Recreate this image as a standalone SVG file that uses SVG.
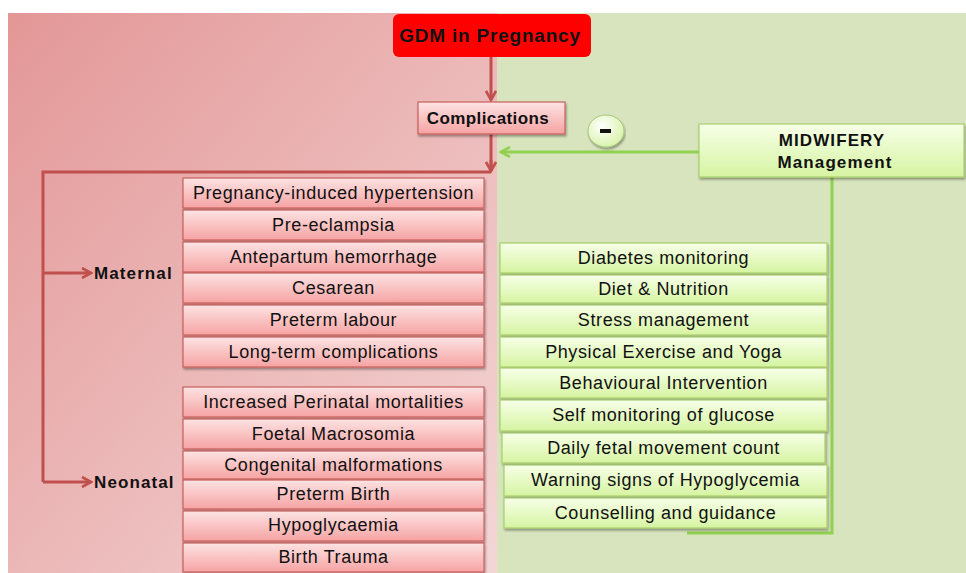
<svg xmlns="http://www.w3.org/2000/svg" width="966" height="573" viewBox="0 0 966 573">
<defs>
<linearGradient id="bgRed" x1="0" y1="0" x2="1" y2="1">
<stop offset="0" stop-color="#e39797"/>
<stop offset="1" stop-color="#f4d6d6"/>
</linearGradient>
<linearGradient id="redBox" x1="0" y1="0" x2="0" y2="1">
<stop offset="0" stop-color="#fde3e3"/>
<stop offset="1" stop-color="#f6a3a3"/>
</linearGradient>
<linearGradient id="greenBox" x1="0" y1="0" x2="0" y2="1">
<stop offset="0" stop-color="#f7ffe8"/>
<stop offset="1" stop-color="#d6f4a2"/>
</linearGradient>
<radialGradient id="minusG" cx="0.4" cy="0.35" r="0.7">
<stop offset="0" stop-color="#ffffff"/>
<stop offset="1" stop-color="#d8f2a8"/>
</radialGradient>
<filter id="sh" x="-5%" y="-20%" width="110%" height="150%">
<feDropShadow dx="1" dy="2" stdDeviation="1" flood-color="#000" flood-opacity="0.35"/>
</filter>
<marker id="arR" viewBox="0 0 12 12" refX="10" refY="6" markerWidth="12" markerHeight="12" markerUnits="userSpaceOnUse" orient="auto">
<path d="M1,1 L10,6 L1,11" fill="none" stroke="#c0504d" stroke-width="2.6"/>
</marker>
<marker id="arG" viewBox="0 0 12 12" refX="10" refY="6" markerWidth="12" markerHeight="12" markerUnits="userSpaceOnUse" orient="auto">
<path d="M1,1 L10,6 L1,11" fill="none" stroke="#92d050" stroke-width="2.6"/>
</marker>
</defs>
<style>
text{font-family:"Liberation Sans",Arial,sans-serif;fill:#111;}
.item{font-size:18px;letter-spacing:0.6px;text-anchor:middle;}
.b{font-weight:bold;font-size:17px;letter-spacing:1.1px;}
.rb{fill:url(#redBox);stroke:#c9605e;stroke-width:1.2;filter:url(#sh);}
.gb{fill:url(#greenBox);stroke:#a8cf6c;stroke-width:1.2;filter:url(#sh);}
.rl{fill:none;stroke:#c0504d;stroke-width:3;}
.gl{fill:none;stroke:#92d050;stroke-width:3;}
</style>
<rect x="0" y="0" width="966" height="573" fill="#ffffff"/>
<rect x="8" y="13" width="489" height="560" fill="url(#bgRed)"/>
<rect x="497" y="13" width="469" height="560" fill="#d8e4bd"/>

<g id="connectors">
<path class="gl" d="M832,177 V533 H687"/>
<path class="rl" d="M491,57 V100" marker-end="url(#arR)"/>
<path class="rl" d="M491,134 V171"/>
<path class="rl" d="M491,172 H43 V482"/>
<path class="rl" d="M43,273 H91" marker-end="url(#arR)"/>
<path class="rl" d="M43,482 H91" marker-end="url(#arR)"/>
<path class="rl" d="M491,160 V171" marker-end="url(#arR)"/>
<path class="gl" d="M699,152 H501" marker-end="url(#arG)"/>
</g>

<g id="gdm">
<rect x="393" y="14" width="198" height="43" rx="6" fill="#ff0000"/>
<text x="490" y="42" class="b" style="font-size:19px;letter-spacing:0.8px" text-anchor="middle">GDM in Pregnancy</text>
</g>
<g id="complications">
<rect class="rb" x="418" y="102" width="147" height="32"/>
<text x="488" y="124" class="b" style="letter-spacing:0.4px" text-anchor="middle">Complications</text>
</g>
<g id="minus">
<ellipse cx="606" cy="131" rx="18" ry="16" fill="url(#minusG)" stroke="#a6c97a" stroke-width="1" filter="url(#sh)"/>
<rect x="600" y="129" width="11" height="4" fill="#111"/>
</g>
<g id="midwifery">
<rect class="gb" x="699" y="124" width="265" height="53"/>
<text x="832" y="146" class="b" text-anchor="middle">MIDWIFERY</text>
<text x="835" y="168" class="b" text-anchor="middle">Management</text>
</g>
<g id="maternal"><text x="94" y="279" class="b">Maternal</text></g>
<g id="neonatal"><text x="94" y="488" class="b">Neonatal</text></g>

<g id="maternal-items">
<g id="m1"><rect class="rb" x="183" y="178" width="301" height="30"/><text class="item" x="333.5" y="199">Pregnancy-induced hypertension</text></g>
<g id="m2"><rect class="rb" x="183" y="210" width="301" height="30"/><text class="item" x="333.5" y="231">Pre-eclampsia</text></g>
<g id="m3"><rect class="rb" x="183" y="242" width="301" height="30"/><text class="item" x="333.5" y="263">Antepartum hemorrhage</text></g>
<g id="m4"><rect class="rb" x="183" y="273" width="301" height="30"/><text class="item" x="333.5" y="294">Cesarean</text></g>
<g id="m5"><rect class="rb" x="183" y="305" width="301" height="30"/><text class="item" x="333.5" y="326">Preterm labour</text></g>
<g id="m6"><rect class="rb" x="183" y="337" width="301" height="30"/><text class="item" x="333.5" y="358">Long-term complications</text></g>
</g>

<g id="neonatal-items">
<g id="n1"><rect class="rb" x="183" y="387" width="301" height="30"/><text class="item" x="333.5" y="408">Increased Perinatal mortalities</text></g>
<g id="n2"><rect class="rb" x="183" y="419" width="301" height="30"/><text class="item" x="333.5" y="440">Foetal Macrosomia</text></g>
<g id="n3"><rect class="rb" x="183" y="451" width="301" height="28"/><text class="item" x="333.5" y="471">Congenital malformations</text></g>
<g id="n4"><rect class="rb" x="183" y="480" width="301" height="29"/><text class="item" x="333.5" y="500">Preterm Birth</text></g>
<g id="n5"><rect class="rb" x="183" y="511" width="301" height="30"/><text class="item" x="333.5" y="531">Hypoglycaemia</text></g>
<g id="n6"><rect class="rb" x="183" y="543" width="301" height="29"/><text class="item" x="333.5" y="563">Birth Trauma</text></g>
</g>

<g id="midwifery-items">
<g id="g1"><rect class="gb" x="500" y="243" width="327" height="30"/><text class="item" x="663.5" y="264">Diabetes monitoring</text></g>
<g id="g2"><rect class="gb" x="500" y="275" width="327" height="28"/><text class="item" x="663.5" y="295">Diet &amp; Nutrition</text></g>
<g id="g3"><rect class="gb" x="500" y="305" width="327" height="30"/><text class="item" x="663.5" y="326">Stress management</text></g>
<g id="g4"><rect class="gb" x="500" y="337" width="327" height="30"/><text class="item" x="663.5" y="358">Physical Exercise and Yoga</text></g>
<g id="g5"><rect class="gb" x="500" y="368" width="327" height="30"/><text class="item" x="663.5" y="389">Behavioural Intervention</text></g>
<g id="g6"><rect class="gb" x="500" y="400" width="327" height="31"/><text class="item" x="663.5" y="421">Self monitoring of glucose</text></g>
<g id="g7"><rect class="gb" x="502" y="433" width="323" height="30"/><text class="item" x="663.5" y="454">Daily fetal movement count</text></g>
<g id="g8"><rect class="gb" x="504" y="465" width="323" height="31"/><text class="item" x="665.5" y="486">Warning signs of Hypoglycemia</text></g>
<g id="g9"><rect class="gb" x="504" y="498" width="323" height="30"/><text class="item" x="665.5" y="519">Counselling and guidance</text></g>
</g>
</svg>
